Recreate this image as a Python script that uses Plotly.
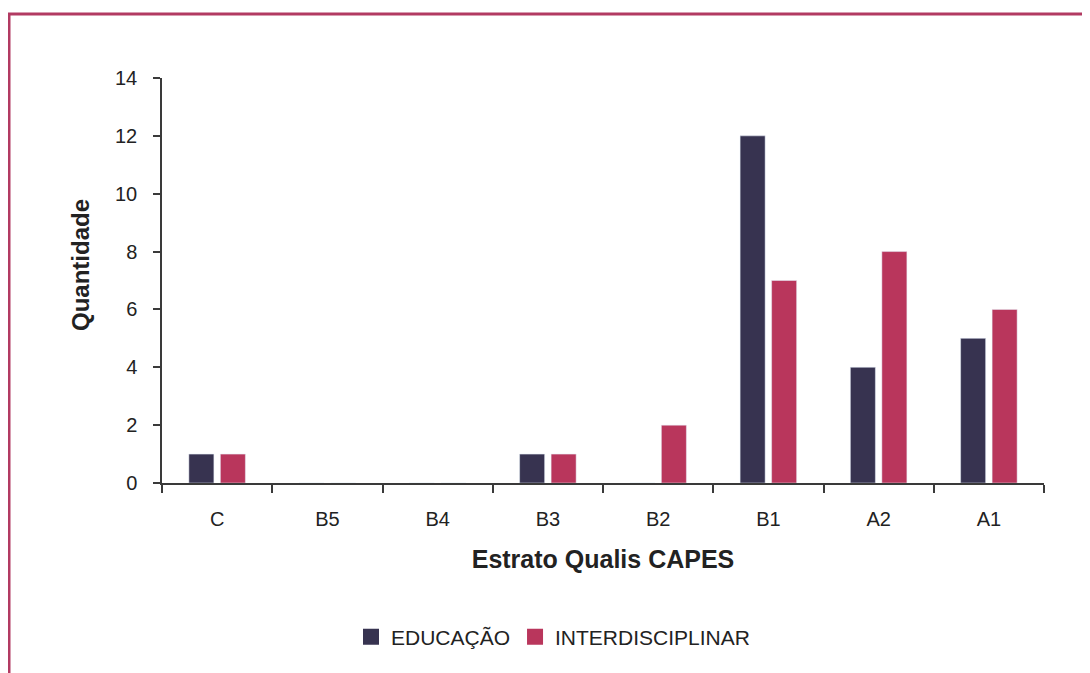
import plotly.graph_objects as go

categories = ["C", "B5", "B4", "B3", "B2", "B1", "A2", "A1"]
educacao = [1, 0, 0, 1, 0, 12, 4, 5]
interdisciplinar = [1, 0, 0, 1, 2, 7, 8, 6]
y_ticks = [0, 2, 4, 6, 8, 10, 12, 14]

COL_EDU = "#373350"
COL_INT = "#b9365c"

W, H = 1090, 673
OFF = 8  # page body margin
# plot area in page coordinates: x 162..1044, y 78..483
PX0, PX1, PY0, PY1 = 162, 1044, 78, 483
L, T = PX0 - OFF, PY0 - OFF
pw, ph = PX1 - PX0, PY1 - PY0
R, B = W - L - pw, H - T - ph

def px(x):
    return (x - PX0) / pw

def py(y):
    return (PY1 - y) / ph

FONT = "Liberation Sans, Arial, sans-serif"
TXT = "#222222"
AX = "#3a3a3a"

fig = go.Figure()
fig.add_trace(go.Bar(name="EDUCAÇÃO", x=categories, y=educacao, marker_color=COL_EDU, showlegend=False))
fig.add_trace(go.Bar(name="INTERDISCIPLINAR", x=categories, y=interdisciplinar, marker_color=COL_INT, showlegend=False))
# legend entries with larger square swatches
fig.add_trace(go.Scatter(name="EDUCAÇÃO", x=[None], y=[None], mode="markers",
                         marker=dict(symbol="square", size=16, color=COL_EDU)))
fig.add_trace(go.Scatter(name="INTERDISCIPLINAR", x=[None], y=[None], mode="markers",
                         marker=dict(symbol="square", size=16, color=COL_INT)))

frame = "#b23a62"
fig.add_shape(type="line", xref="paper", yref="paper", x0=px(8), x1=px(1110), y0=py(14), y1=py(14),
              line=dict(color=frame, width=3))
fig.add_shape(type="line", xref="paper", yref="paper", x0=px(9), x1=px(9), y0=py(13), y1=py(700),
              line=dict(color=frame, width=3))

fig.add_annotation(text="<b>Quantidade</b>", xref="paper", yref="paper", x=px(80), y=py(265),
                   xanchor="center", yanchor="middle", textangle=-90, showarrow=False,
                   font=dict(size=24, color=TXT))

fig.update_layout(
    width=W, height=H,
    margin=dict(l=L, r=R, t=T, b=B),
    paper_bgcolor="white", plot_bgcolor="white",
    barmode="group", bargap=0.4286, bargroupgap=0.206,
    font=dict(family=FONT, size=20, color=TXT),
    showlegend=True,
    legend=dict(orientation="h", x=px(553), xanchor="center", y=py(637), yanchor="middle",
                font=dict(size=21, color=TXT), traceorder="normal"),
    xaxis=dict(
        type="category",
        showline=True, linecolor=AX, linewidth=1.5,
        ticks="outside", tickson="boundaries", ticklen=8, tickcolor=AX, tickwidth=1.5,
        ticklabelstandoff=17,
        tickfont=dict(size=20, color=TXT),
        showgrid=False, zeroline=False,
        title=dict(text="<b>Estrato Qualis CAPES</b>", font=dict(size=25, color=TXT), standoff=22),
    ),
    yaxis=dict(
        range=[0, 14], tickvals=y_ticks,
        showline=True, linecolor=AX, linewidth=1.5,
        ticks="outside", ticklen=7, tickcolor=AX, tickwidth=1.5,
        ticklabelstandoff=12,
        tickfont=dict(size=20, color=TXT),
        showgrid=False, zeroline=False,
    ),
)

fig.write_html("out.html")
